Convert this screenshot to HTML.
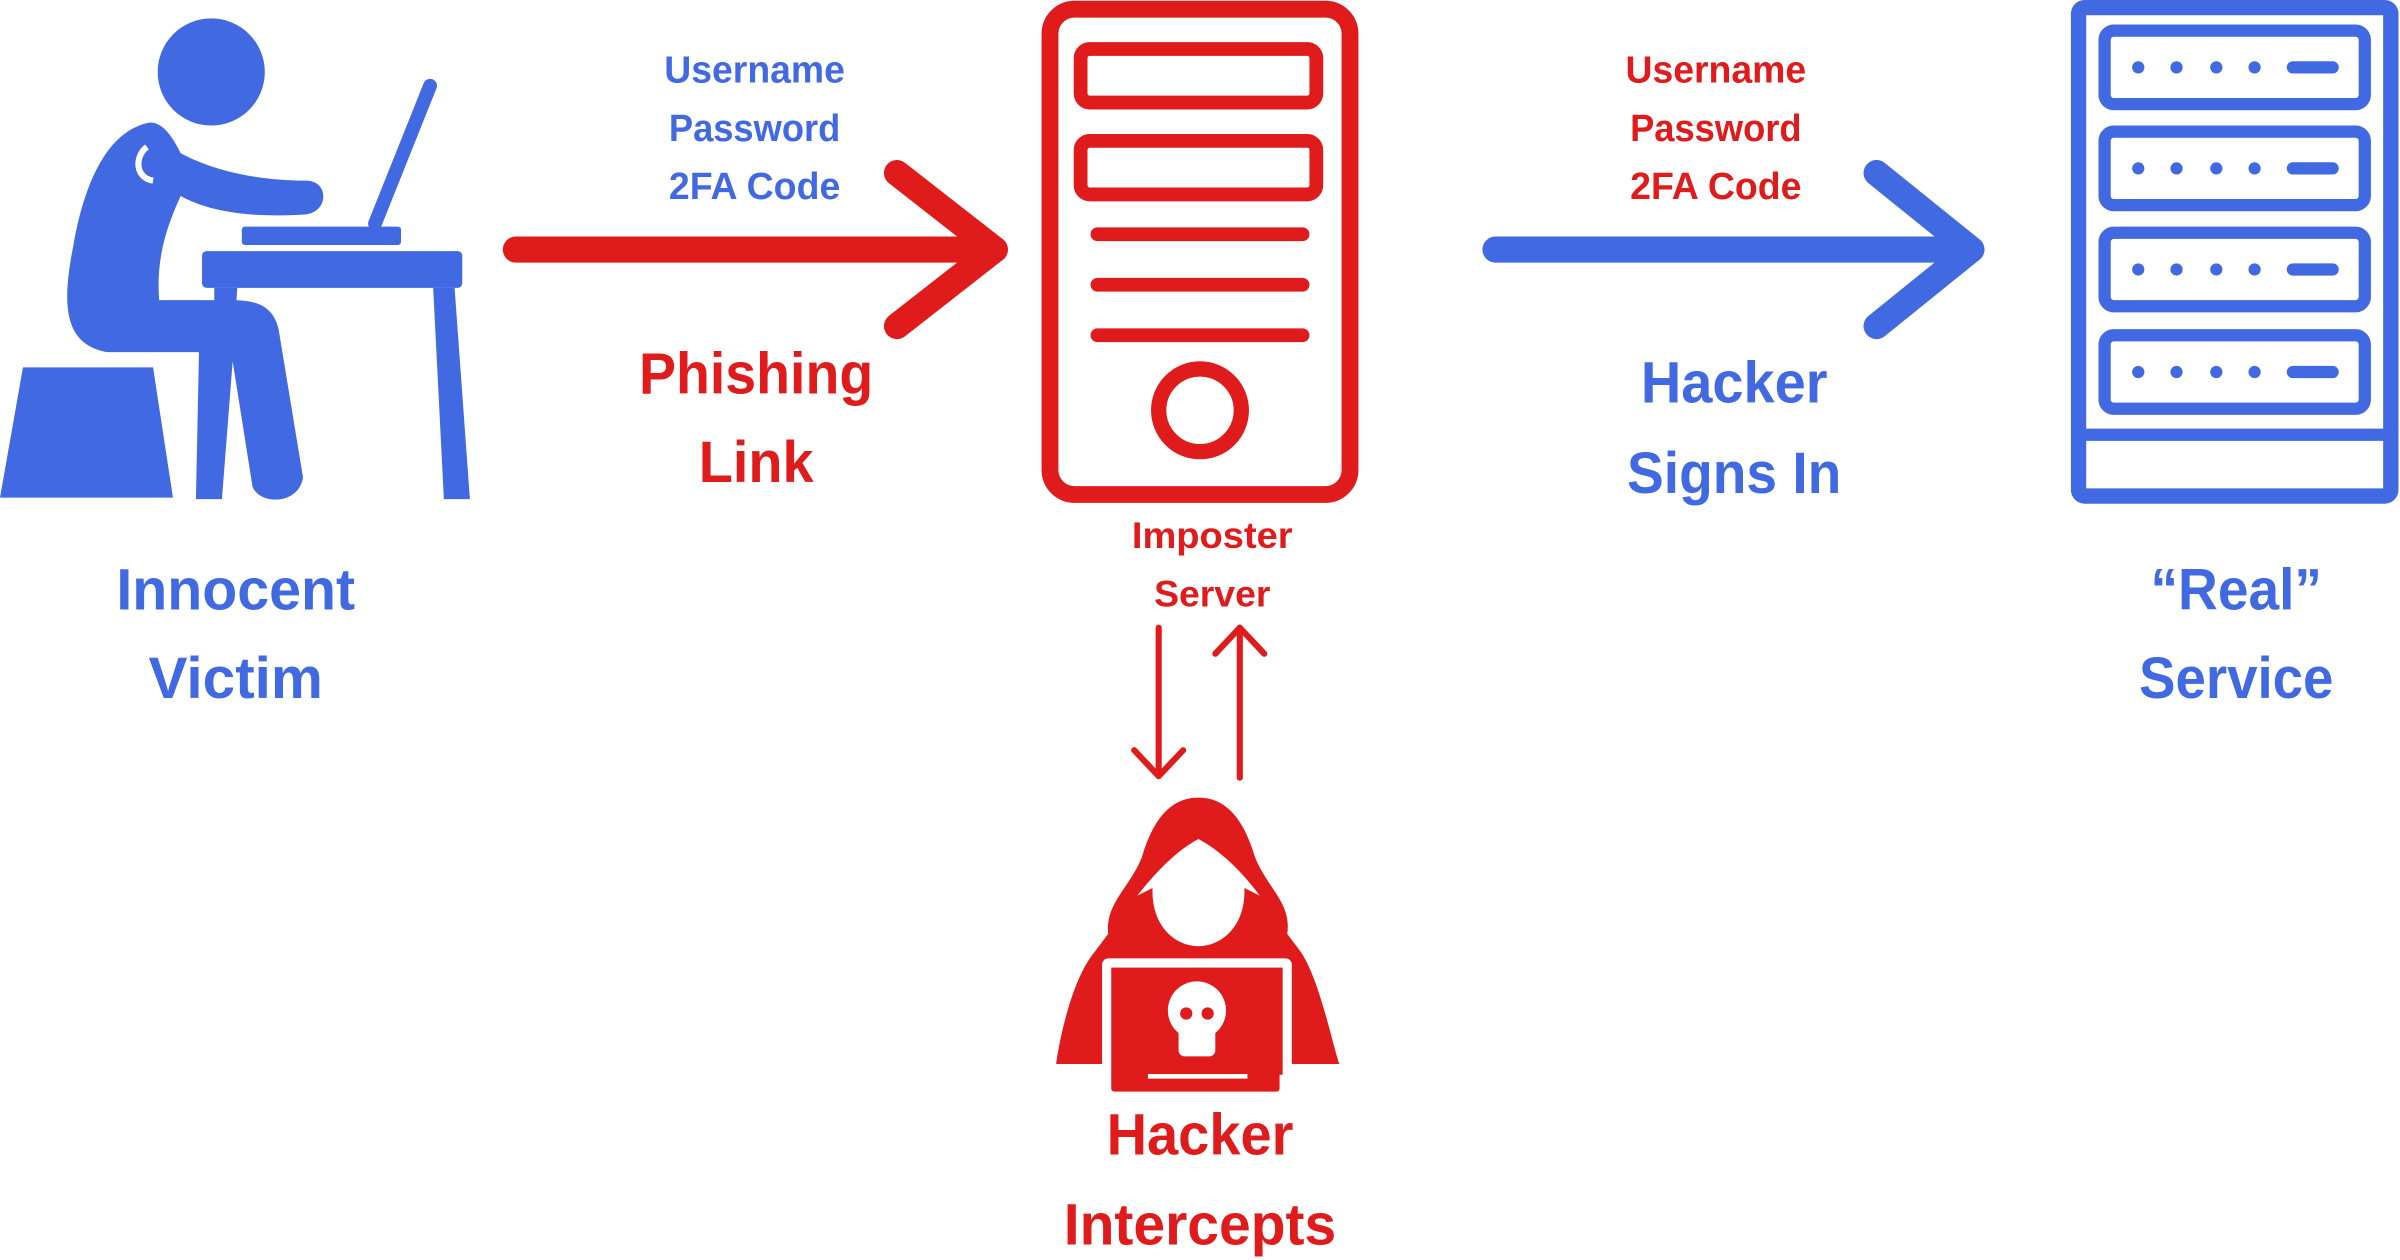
<!DOCTYPE html>
<html><head><meta charset="utf-8"><style>
html,body{margin:0;padding:0;background:#fff;}
svg{display:block;}
text{font-family:"Liberation Sans",sans-serif;font-weight:bold;text-anchor:middle;}
</style></head><body>
<svg width="2400" height="1260" viewBox="0 0 1568 823" preserveAspectRatio="none">
<g fill="#4169E1">
 <circle cx="138" cy="47" r="35"/>
 <path d="M98,80 C70,85 55,120 48,160 C40,200 42,225 70,230 L130,230 L128,326 L145,326 L152,236 L165,318 C170,330 195,330 198,312 L182,215 C178,198 165,196 150,196 L104,196 C102,170 108,150 118,128 C140,140 170,142 200,140 C215,138 215,118 200,118 C170,118 140,112 118,100 C112,88 106,80 98,80Z"/>
 <path d="M96,96 C88,102 88,116 100,118" fill="none" stroke="#fff" stroke-width="4"/>
 <polygon points="15,240 100,240 113,325 0,325"/>
 <rect x="158" y="148" width="104" height="12" rx="2"/>
 <rect x="132" y="164" width="170" height="24" rx="3"/>
 <polygon points="283,188 297,188 307,326 290,326"/>
 <polygon points="140,188 155,188 152,236 140,236"/>
</g>
<line x1="245" y1="146" x2="281" y2="56" stroke="#4169E1" stroke-width="9" stroke-linecap="round"/>

<g stroke="#E01B1B" fill="none" stroke-linecap="round" stroke-linejoin="round">
 <line x1="337" y1="163" x2="650" y2="163" stroke-width="17"/>
 <polyline points="586,113 650,163 586,213" stroke-width="17"/>
 <rect x="686" y="6" width="196" height="317" rx="16" stroke-width="11"/>
 <rect x="706" y="32" width="154" height="35" rx="6" stroke-width="9"/>
 <rect x="706" y="92" width="154" height="35" rx="6" stroke-width="9"/>
 <line x1="717" y1="153" x2="851" y2="153" stroke-width="9"/>
 <line x1="717" y1="186" x2="851" y2="186" stroke-width="9"/>
 <line x1="717" y1="219" x2="851" y2="219" stroke-width="9"/>
 <circle cx="784" cy="268" r="27" stroke-width="10"/>
 <line x1="757" y1="410" x2="757" y2="505" stroke-width="4"/>
 <polyline points="741,490 757,507 773,490" stroke-width="4"/>
 <line x1="810" y1="508" x2="810" y2="410" stroke-width="4"/>
 <polyline points="794,427 810,410 826,427" stroke-width="4"/>
</g>
<g stroke="#4169E1" fill="none" stroke-linecap="round" stroke-linejoin="round">
 <line x1="977" y1="163" x2="1288" y2="163" stroke-width="17"/>
 <polyline points="1226,113 1288,163 1226,213" stroke-width="17"/>
 <rect x="1358" y="5" width="204" height="319" rx="4" stroke-width="10"/>
 <line x1="1358" y1="284" x2="1562" y2="284" stroke-width="8"/>
 <rect x="1375" y="20" width="170" height="48" rx="6" stroke-width="8"/>
 <rect x="1375" y="86" width="170" height="48" rx="6" stroke-width="8"/>
 <rect x="1375" y="152" width="170" height="48" rx="6" stroke-width="8"/>
 <rect x="1375" y="219" width="170" height="48" rx="6" stroke-width="8"/>
 <g stroke-width="8">
  <line x1="1498" y1="44" x2="1524" y2="44"/><line x1="1498" y1="110" x2="1524" y2="110"/>
  <line x1="1498" y1="176" x2="1524" y2="176"/><line x1="1498" y1="243" x2="1524" y2="243"/>
 </g>
</g>
<g fill="#4169E1">
 <circle cx="1397" cy="44" r="4"/><circle cx="1422" cy="44" r="4"/><circle cx="1448" cy="44" r="4"/><circle cx="1473" cy="44" r="4"/>
 <circle cx="1397" cy="110" r="4"/><circle cx="1422" cy="110" r="4"/><circle cx="1448" cy="110" r="4"/><circle cx="1473" cy="110" r="4"/>
 <circle cx="1397" cy="176" r="4"/><circle cx="1422" cy="176" r="4"/><circle cx="1448" cy="176" r="4"/><circle cx="1473" cy="176" r="4"/>
 <circle cx="1397" cy="243" r="4"/><circle cx="1422" cy="243" r="4"/><circle cx="1448" cy="243" r="4"/><circle cx="1473" cy="243" r="4"/>
</g>

<!-- hacker -->
<path fill="#E01B1B" d="M783,521 C762,521 752,540 746,560 C738,580 722,590 724,610 L715,622 C700,640 692,680 690,695 L875,695 C870,680 862,640 850,622 L841,610 C844,590 828,580 820,560 C814,540 804,521 783,521Z"/>
<path fill="#fff" d="M783,548 C768,556 755,570 743,585 L753,580 C752,605 768,618 783,618 C798,618 814,605 813,580 L823,585 C812,570 798,556 783,548Z"/>
<rect x="720" y="626" width="124" height="80" rx="4" fill="#fff"/>
<rect x="726" y="632" width="112" height="70" fill="#E01B1B"/>
<rect x="726" y="700" width="110" height="13" rx="2" fill="#E01B1B"/>
<line x1="750" y1="703" x2="815" y2="703" stroke="#fff" stroke-width="3"/>
<circle cx="782" cy="660" r="19" fill="#fff"/>
<rect x="770" y="668" width="24" height="22" rx="4" fill="#fff"/>
<circle cx="775" cy="662" r="4" fill="#E01B1B"/><circle cx="789" cy="662" r="4" fill="#E01B1B"/>

<g fill="#4169E1">
 <text x="493" y="54" font-size="25" textLength="118" lengthAdjust="spacingAndGlyphs">Username</text>
 <text x="493" y="92" font-size="25" textLength="112" lengthAdjust="spacingAndGlyphs">Password</text>
 <text x="493" y="130" font-size="25" textLength="112" lengthAdjust="spacingAndGlyphs">2FA Code</text>
 <text x="1133" y="263" font-size="38" textLength="122" lengthAdjust="spacingAndGlyphs">Hacker</text>
 <text x="1133" y="322" font-size="38" textLength="140" lengthAdjust="spacingAndGlyphs">Signs In</text>
 <text x="154" y="398" font-size="38" textLength="156" lengthAdjust="spacingAndGlyphs">Innocent</text>
 <text x="154" y="456" font-size="38" textLength="114" lengthAdjust="spacingAndGlyphs">Victim</text>
 <text x="1461" y="398" font-size="38" textLength="112" lengthAdjust="spacingAndGlyphs">“Real”</text>
 <text x="1461" y="456" font-size="38" textLength="127" lengthAdjust="spacingAndGlyphs">Service</text>
</g>
<g fill="#E01B1B">
 <text x="1121" y="54" font-size="25" textLength="118" lengthAdjust="spacingAndGlyphs">Username</text>
 <text x="1121" y="92" font-size="25" textLength="112" lengthAdjust="spacingAndGlyphs">Password</text>
 <text x="1121" y="130" font-size="25" textLength="112" lengthAdjust="spacingAndGlyphs">2FA Code</text>
 <text x="494" y="257" font-size="38" textLength="153" lengthAdjust="spacingAndGlyphs">Phishing</text>
 <text x="494" y="315" font-size="38" textLength="75" lengthAdjust="spacingAndGlyphs">Link</text>
 <text x="792" y="358" font-size="24" textLength="105" lengthAdjust="spacingAndGlyphs">Imposter</text>
 <text x="792" y="396" font-size="24" textLength="76" lengthAdjust="spacingAndGlyphs">Server</text>
 <text x="784" y="754" font-size="38" textLength="122" lengthAdjust="spacingAndGlyphs">Hacker</text>
 <text x="784" y="813" font-size="38" textLength="178" lengthAdjust="spacingAndGlyphs">Intercepts</text>
</g>
</svg>
</body></html>
